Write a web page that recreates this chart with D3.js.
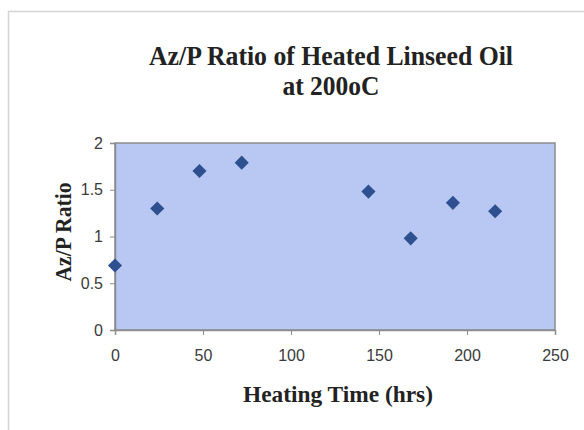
<!DOCTYPE html>
<html>
<head>
<meta charset="utf-8">
<script src="https://cdn.jsdelivr.net/npm/d3@7"></script>
<style>
  body { margin: 0; background: #fff; }
  svg { display: block; }
</style>
</head>
<body>
<svg width="584" height="430"></svg>
<script>
// heating time (hrs) and Az/P ratio
const hours = [0, 24, 48, 72, 144, 168, 192, 216];
const ratios = [0.69, 1.3, 1.7, 1.79, 1.48, 0.98, 1.36, 1.27];
const xTicks = [0, 50, 100, 150, 200, 250];
const yTicks = [0, 0.5, 1, 1.5, 2];
const titleLines = ["Az/P Ratio of Heated Linseed Oil", "at 200oC"];

const svg = d3.select("svg");
const serif = "'Liberation Serif', 'Times New Roman', serif";

// outer chart frame
svg.append("rect")
  .attr("x", 8.5).attr("y", 11.5)
  .attr("width", 620).attr("height", 460)
  .attr("fill", "none")
  .attr("stroke", "#d4d4d4")
  .attr("stroke-width", 1.5);

const plotL = 115, plotR = 555, plotT = 143, plotB = 330;
const x = d3.scaleLinear().domain([0, 250]).range([plotL, plotR]);
const y = d3.scaleLinear().domain([0, 2]).range([plotB, plotT]);

// plot area
svg.append("rect")
  .attr("x", plotL).attr("y", plotT)
  .attr("width", plotR - plotL).attr("height", plotB - plotT)
  .attr("fill", "#b9c8f3")
  .attr("stroke", "#8c8c8c")
  .attr("stroke-width", 1.5);

// axes
const xAxis = svg.append("g")
  .attr("transform", `translate(0,${plotB})`)
  .call(d3.axisBottom(x).tickValues(xTicks).tickSize(5).tickPadding(15));
const yAxis = svg.append("g")
  .attr("transform", `translate(${plotL},0)`)
  .call(d3.axisLeft(y).tickValues(yTicks).tickSize(5).tickPadding(7)
    .tickFormat(d3.format("")));

[xAxis, yAxis].forEach(a => {
  a.select(".domain").attr("stroke", "#8c8c8c").attr("stroke-width", 1.5);
  a.selectAll(".tick line").attr("stroke", "#8c8c8c");
  a.selectAll("text")
    .attr("fill", "#3a3a3a")
    .style("font-family", "'Liberation Sans', Arial, sans-serif")
    .style("font-size", "16px");
});

// markers
svg.append("g").selectAll("path")
  .data(hours)
  .enter()
  .append("path")
  .attr("d", d3.symbol().type(d3.symbolSquare).size(100))
  .attr("transform", (d, i) => `translate(${x(d)},${y(ratios[i])}) rotate(45)`)
  .attr("fill", "#2e5090");

// titles
svg.append("g").selectAll("text")
  .data(titleLines)
  .enter()
  .append("text")
  .attr("x", 331)
  .attr("y", (d, i) => 65 + i * 30)
  .attr("text-anchor", "middle")
  .attr("textLength", (d, i) => i === 0 ? 364 : 97)
  .attr("lengthAdjust", "spacingAndGlyphs")
  .style("font-family", serif)
  .style("font-weight", "bold")
  .style("font-size", "27px")
  .attr("fill", "#222")
  .text(d => d);

svg.append("text")
  .attr("x", 338).attr("y", 402)
  .attr("text-anchor", "middle")
  .attr("textLength", 190)
  .attr("lengthAdjust", "spacingAndGlyphs")
  .style("font-family", serif)
  .style("font-weight", "bold")
  .style("font-size", "24px")
  .attr("fill", "#222")
  .text("Heating Time (hrs)");

svg.append("text")
  .attr("transform", "translate(71,232) rotate(-90)")
  .attr("text-anchor", "middle")
  .attr("textLength", 99)
  .attr("lengthAdjust", "spacingAndGlyphs")
  .style("font-family", serif)
  .style("font-weight", "bold")
  .style("font-size", "23px")
  .attr("fill", "#222")
  .text("Az/P Ratio");
</script>
</body>
</html>
